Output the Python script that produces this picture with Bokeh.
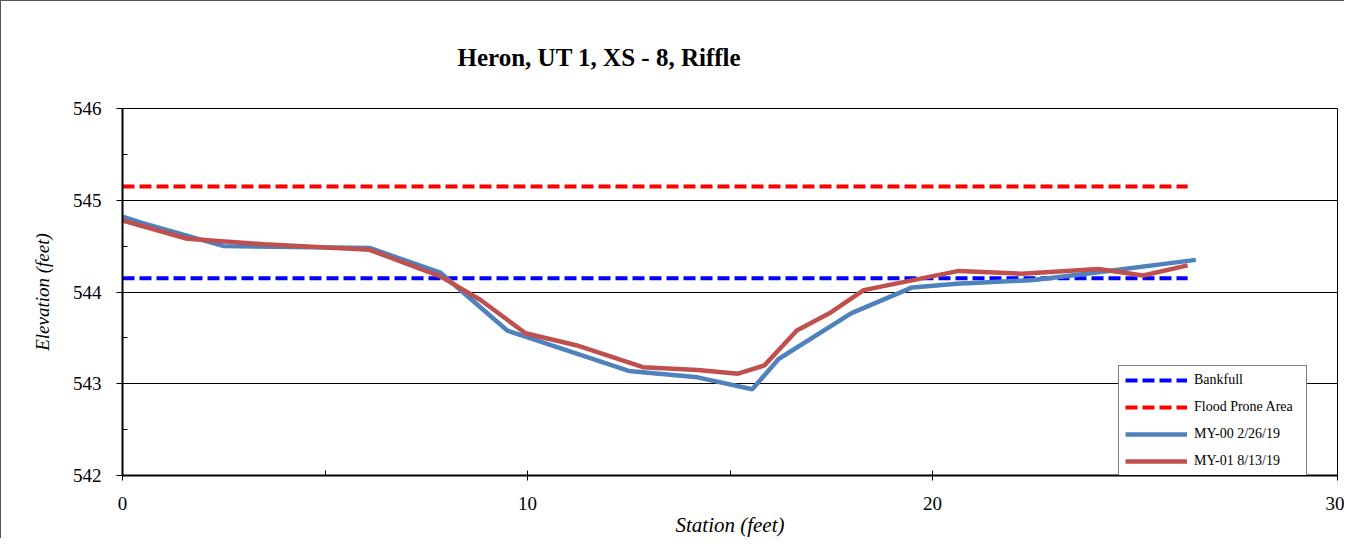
from bokeh.plotting import figure
from bokeh.models import Range1d, Legend, LegendItem, FixedTicker, Title
from bokeh.embed import file_html
from bokeh.resources import INLINE

title_text = "Heron, UT 1, XS - 8, Riffle"
x_label = "Station (feet)"
y_label = "Elevation (feet)"

my00_station = [0.0, 0.5, 2.5, 6.1, 7.85, 9.5, 12.5, 14.2, 15.55, 16.2, 18.0, 19.5, 20.6, 22.5, 24.0, 26.5]
my00_elev = [544.82, 544.75, 544.50, 544.48, 544.21, 543.58, 543.14, 543.07, 542.94, 543.27, 543.77, 544.05, 544.09, 544.13, 544.21, 544.35]

my01_station = [0.0, 1.6, 3.5, 6.1, 7.85, 8.85, 9.95, 11.2, 12.85, 14.2, 15.2, 15.85, 16.65, 17.5, 18.3, 20.65, 22.2, 24.1, 25.2, 26.3]
my01_elev = [544.78, 544.58, 544.52, 544.46, 544.17, 543.91, 543.55, 543.42, 543.18, 543.15, 543.11, 543.20, 543.58, 543.78, 544.02, 544.23, 544.20, 544.25, 544.18, 544.29]

bankfull_x = [0.0, 26.3]
bankfull_y = [544.15, 544.15]
flood_x = [0.0, 26.3]
flood_y = [545.15, 545.15]

serif = "Liberation Serif"

p = figure(width=1344, height=538, output_backend="svg", toolbar_location=None,
           x_range=Range1d(0, 30), y_range=Range1d(542, 546),
           min_border_left=121, min_border_right=8, min_border_top=107, min_border_bottom=64)
p.title = None
p.styles = {"border-left": "1px solid #555555", "border-top": "1px solid #555555"}

t = Title(text=title_text, text_font=serif, text_font_size="25px", text_font_style="bold",
          text_color="black", align="left", offset=335, standoff=76)
p.add_layout(t, "above")

p.outline_line_color = "black"
p.outline_line_width = 1
p.background_fill_color = "white"
p.border_fill_color = "white"

p.xgrid.visible = False
p.ygrid.grid_line_color = "black"
p.ygrid.grid_line_width = 1
p.ygrid.ticker = FixedTicker(ticks=[543, 544, 545])

p.xaxis.ticker = FixedTicker(ticks=[0, 10, 20, 30], minor_ticks=[5, 15, 25])
p.yaxis.ticker = FixedTicker(ticks=[542, 543, 544, 545, 546], minor_ticks=[542.5, 543.5, 544.5, 545.5])

for ax in (p.xaxis[0], p.yaxis[0]):
    ax.axis_line_color = "black"
    ax.axis_line_width = 2
    ax.major_tick_line_color = "black"
    ax.minor_tick_line_color = "black"
    ax.major_label_text_font = serif
    ax.major_label_text_font_size = "19px"
    ax.major_label_text_color = "black"
    ax.axis_label_text_font = serif
    ax.axis_label_text_font_style = "italic"
    ax.axis_label_text_color = "black"

p.xaxis.axis_label = x_label
p.yaxis.axis_label = y_label
p.xaxis.axis_label_text_font_size = "21px"
p.yaxis.axis_label_text_font_size = "19px"
p.xaxis.major_tick_in = 5
p.xaxis.major_tick_out = 5
p.xaxis.minor_tick_in = 5
p.xaxis.minor_tick_out = 0
p.xaxis.major_label_standoff = 16
p.xaxis.axis_label_standoff = 0
p.yaxis.major_tick_in = 0
p.yaxis.major_tick_out = 6
p.yaxis.minor_tick_in = 5
p.yaxis.minor_tick_out = 0
p.yaxis.major_label_standoff = 15
p.yaxis.axis_label_standoff = 17

r_bank = p.line(bankfull_x, bankfull_y, line_color="#0000FF", line_width=4, line_dash="12 5")
r_flood = p.line(flood_x, flood_y, line_color="#FF0000", line_width=4, line_dash="12 5")
r00 = p.line(my00_station, my00_elev, line_color="#4F81BD", line_width=4.5)
r01 = p.line(my01_station, my01_elev, line_color="#C0504D", line_width=4.5)

legend = Legend(items=[
    LegendItem(label="Bankfull", renderers=[r_bank]),
    LegendItem(label="Flood Prone Area", renderers=[r_flood]),
    LegendItem(label="MY-00 2/26/19", renderers=[r00]),
    LegendItem(label="MY-01 8/13/19", renderers=[r01]),
], location=(996, -1))
legend.margin = 0
legend.padding = 6
legend.spacing = 11
legend.glyph_height = 16
legend.label_height = 16
legend.glyph_width = 62
legend.label_standoff = 7
legend.label_width = 106
legend.label_text_font = serif
legend.label_text_font_size = "14px"
legend.label_text_color = "black"
legend.border_line_color = "black"
legend.border_line_width = 1
legend.background_fill_color = "white"
legend.background_fill_alpha = 1
p.add_layout(legend, "center")

open("out.html", "w").write(file_html(p, INLINE))
